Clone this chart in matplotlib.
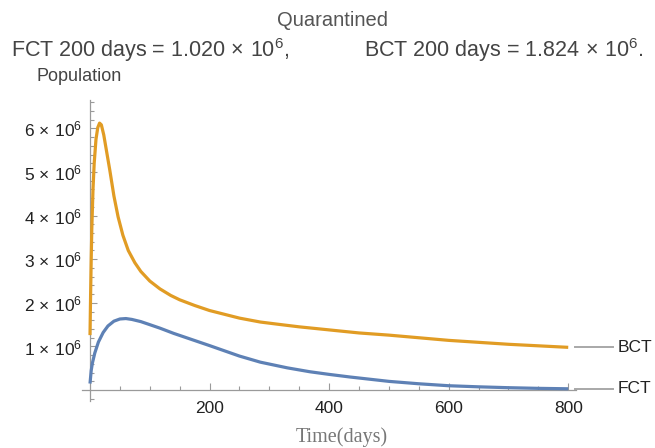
import matplotlib
matplotlib.use("Agg")
import matplotlib.pyplot as plt
import matplotlib.transforms as mtransforms
from matplotlib.ticker import FixedLocator, FuncFormatter

plt.rcParams['font.family'] = ['Liberation Sans', 'DejaVu Sans']
plt.rcParams['mathtext.fontset'] = 'custom'
plt.rcParams['mathtext.rm'] = 'Liberation Sans'
plt.rcParams['mathtext.it'] = 'Liberation Sans:italic'
plt.rcParams['mathtext.bf'] = 'Liberation Sans:bold'

# Quarantined population under backward (BCT) and forward (FCT) contact tracing
t_bct = [0, 1, 2, 3, 5, 7, 10, 13, 16, 19, 23, 28, 33, 40, 47, 55, 64, 75, 85,
         100, 117, 135, 150, 175, 200, 250, 285, 320, 350, 400, 450, 500, 550,
         600, 700, 800]
bct = [1.26e6, 2.2e6, 3.0e6, 3.7e6, 4.6e6, 5.2e6, 5.75e6, 6.02e6, 6.12e6, 6.08e6,
       5.85e6, 5.45e6, 5.05e6, 4.45e6, 3.97e6, 3.55e6, 3.2e6, 2.92e6, 2.72e6,
       2.5e6, 2.32e6, 2.17e6, 2.07e6, 1.94e6, 1.824e6, 1.65e6, 1.56e6, 1.5e6,
       1.45e6, 1.38e6, 1.31e6, 1.26e6, 1.2e6, 1.14e6, 1.05e6, 0.98e6]

t_fct = [0, 2, 4, 8, 14, 22, 30, 40, 50, 60, 70, 85, 100, 117, 140, 170, 200,
         250, 285, 330, 368, 400, 435, 500, 550, 600, 650, 700, 750, 800]
fct = [0.15e6, 0.45e6, 0.62e6, 0.85e6, 1.1e6, 1.32e6, 1.47e6, 1.58e6, 1.63e6,
       1.64e6, 1.62e6, 1.57e6, 1.5e6, 1.42e6, 1.3e6, 1.16e6, 1.02e6, 0.78e6,
       0.64e6, 0.51e6, 0.42e6, 0.36e6, 0.3e6, 0.2e6, 0.145e6, 0.1e6, 0.075e6,
       0.055e6, 0.04e6, 0.03e6]

x_major = [200, 400, 600, 800]
y_major = [1e6, 2e6, 3e6, 4e6, 5e6, 6e6]
series_names = ['BCT', 'FCT']

ORANGE = '#E19C24'
BLUE = '#5E81B5'

W, H = 655, 448
fig = plt.figure(figsize=(W / 100, H / 100), dpi=100)
ax = fig.add_axes([82 / W, 1 - 401 / H, (576 - 82) / W, (401 - 100) / H])

ax.plot(t_fct, fct, color=BLUE, lw=2.3, solid_capstyle='butt', zorder=3)
ax.plot(t_bct, bct, color=ORANGE, lw=2.3, solid_capstyle='butt', zorder=3)

ax.set_xlim(-13.4, 813)
ax.set_ylim(-0.25e6, 6.65e6)

for s in ['top', 'right']:
    ax.spines[s].set_visible(False)
ax.spines['left'].set_position(('data', 0))
ax.spines['bottom'].set_position(('data', 0))
for s in ['left', 'bottom']:
    ax.spines[s].set_color('#9a9a9a')
    ax.spines[s].set_linewidth(0.9)

ax.xaxis.set_major_locator(FixedLocator(x_major))
ax.xaxis.set_minor_locator(FixedLocator([v for v in range(50, 801, 50) if v not in x_major]))
ax.yaxis.set_major_locator(FixedLocator(y_major))
ax.yaxis.set_minor_locator(FixedLocator([i * 0.2e6 for i in range(-1, 34) if i % 5 != 0]))

ax.yaxis.set_major_formatter(FuncFormatter(lambda v, p: r'$%d\,\times\,10^{6}$' % round(v / 1e6)))
ax.xaxis.set_major_formatter(FuncFormatter(lambda v, p: '%d' % v))

ax.tick_params(which='both', direction='in', color='#9a9a9a', width=0.8,
               labelsize=12.5, labelcolor='#222222')
ax.tick_params(which='major', length=5)
ax.tick_params(which='minor', length=3)
ax.tick_params(axis='x', which='major', pad=8)
ax.tick_params(axis='y', which='major', pad=6)

# Curve labels at the right end
trans = mtransforms.blended_transform_factory(ax.transAxes, ax.transData)
for name, val in zip(series_names, [bct[-1], fct[-1]]):
    ax.plot([0.998, 1.075], [val, val], color='#a8a8a8', lw=1.4,
            transform=trans, clip_on=False)
    ax.text(1.085, val, name, transform=trans, ha='left', va='center',
            fontsize=12.5, color='#222222')

fig.text(332 / W, 1 - 26 / H, 'Quarantined', ha='center', va='baseline',
         fontsize=14.5, color='#555555')
fig.text(11 / W, 1 - 57 / H, r'FCT 200 days = $1.020\,\times\,10^{6}$,', ha='left',
         va='baseline', fontsize=15.5, color='#444444')
fig.text(643 / W, 1 - 57 / H, r'BCT 200 days = $1.824\,\times\,10^{6}$.', ha='right',
         va='baseline', fontsize=15.5, color='#444444')
fig.text(36 / W, 1 - 81 / H, 'Population', ha='left', va='baseline',
         fontsize=13, color='#444444')
fig.text(342 / W, 1 - 442 / H, 'Time(days)', ha='center', va='baseline',
         fontsize=14.5, color='#777777', family='Liberation Serif')

fig.savefig('out.png', dpi=100)
